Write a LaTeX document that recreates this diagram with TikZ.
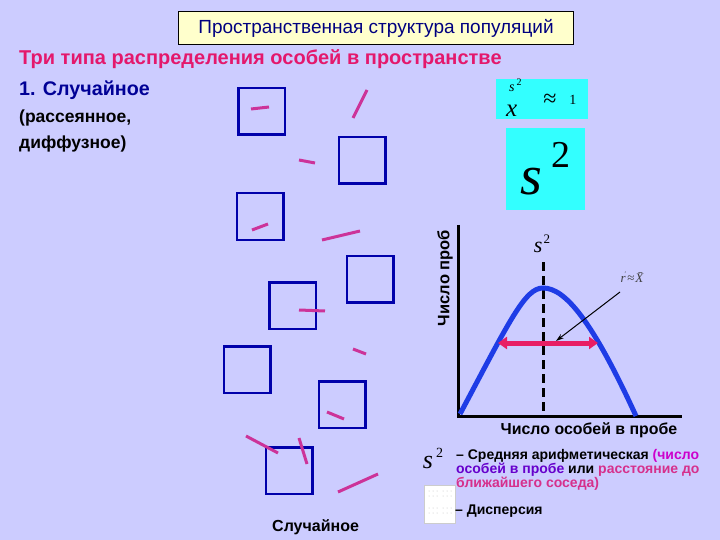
\documentclass[tikz,border=0pt]{standalone}
\usepackage{fontspec}
\setmainfont{Liberation Sans}
\newfontfamily\tms{Liberation Serif}
\usetikzlibrary{arrows.meta}
\definecolor{bgviolet}{RGB}{204,204,255}
\definecolor{titlefill}{RGB}{255,255,204}
\definecolor{navy}{RGB}{0,0,128}
\definecolor{headred}{RGB}{228,24,108}
\definecolor{kindblue}{RGB}{0,0,150}
\definecolor{sqblue}{RGB}{0,0,170}
\definecolor{indpink}{RGB}{204,51,153}
\definecolor{boxcyan}{RGB}{51,255,255}
\definecolor{curveblue}{RGB}{30,60,230}
\definecolor{arrpink}{RGB}{232,30,100}
\definecolor{legmag}{RGB}{204,0,204}
\definecolor{legpurp}{RGB}{102,0,204}
\definecolor{legpink}{RGB}{214,48,140}

\begin{document}
\begin{tikzpicture}[x=1pt,y=-1pt,
  sq/.style={draw=sqblue,line width=2.5pt,minimum size=46.5pt,inner sep=0pt},
  ind/.style={draw=indpink,line width=3pt},
  txt/.style={inner sep=0pt,anchor=west,font=\bfseries\fontsize{#1}{#1}\selectfont},
  txt/.default=14]
\fill[bgviolet] (0,0) rectangle (720,540);

\node[draw,fill=titlefill,line width=1pt,minimum width=395pt,minimum height=33pt,
  text=navy,font=\fontsize{19}{19}\selectfont] (title) at (376,28.5) {Пространственная структура популяций};

\node[txt=20,text=headred] (heading) at (19,59) {Три типа распределения особей в пространстве};
\node[txt=19.7,text=kindblue] (kind) at (19,90) {1. Случайное};
\node[txt=17.5] (note1) at (19,118) {(рассеянное,};
\node[txt=17.5] (note2) at (19,144) {диффузное)};

% quadrats
\foreach \x/\y [count=\i] in {261.5/111.5,362/160.5,260/216.5,370/279,292.5/305.5,247/369.5,342/404.5,289/470.5}
  \node[sq] (sq\i) at (\x,\y) {};

% individuals
\draw[ind] (251,109) -- (269,107);
\draw[ind] (353,118) -- (367,90);
\draw[ind] (299,160) -- (315,163);
\draw[ind] (252,230) -- (268,224);
\draw[ind] (322,240) -- (360,231);
\draw[ind] (299,310) -- (325,311);
\draw[ind] (353,349) -- (366,354);
\draw[ind] (327,412) -- (344,419);
\draw[ind] (246,436) -- (278,453);
\draw[ind] (299,438) -- (307,464);
\draw[ind] (338,492) -- (378,474);

\node[txt=16] (caption) at (272,527) {Случайное};

% formulas
\node[fill=boxcyan,minimum width=92pt,minimum height=40pt,inner sep=0pt] (ratio) at (542,99) {};
\node[anchor=base west,inner sep=0pt] (ratiotxt) at (506,117)
  {\tms\itshape\makebox[0pt][l]{\raisebox{25pt}{\fontsize{14}{14}\selectfont\hspace{3pt}s\raisebox{6pt}{\upshape\fontsize{10}{10}\selectfont\hspace{2pt}2}}}%
   \fontsize{25}{25}\selectfont x\hspace{26pt}\upshape\raisebox{10pt}{\fontsize{24}{24}\selectfont≈}\hspace{13pt}\raisebox{12pt}{\fontsize{14}{14}\selectfont 1}};
\node[fill=boxcyan,minimum width=79pt,minimum height=82pt,inner sep=0pt] (var) at (545.5,169)
  {\tms\itshape\fontsize{56}{56}\selectfont s\hspace{10pt}\raisebox{27pt}{\upshape\fontsize{38}{38}\selectfont 2}};

% graph
\coordinate (O) at (458,416);
\coordinate (ytop) at (458,225);
\coordinate (xend) at (682,416);
\draw[line width=3pt] (ytop) -- (O) -- (xend);
\node[txt=16.5,rotate=90,anchor=center] (ylab) at (445,278) {Число проб};
\node[txt=15.9,anchor=center] (xlab) at (589,430) {Число особей в пробе};

\node[inner sep=0pt] (smark) at (542,244)
  {\tms\itshape\fontsize{22}{22}\selectfont s\hspace{1pt}\raisebox{9pt}{\upshape\fontsize{13}{13}\selectfont 2}};
\coordinate (mid) at (543,413);
\draw[line width=3pt,dash pattern=on 9pt off 5pt] (mid |- 0,262) -- (mid);

\draw[curveblue,line width=5pt] (460,414) .. controls (510,320) and (525,288) .. (543,288)
  .. controls (565,288) and (592,320) .. (636,416);

\coordinate (wl) at (498,343);
\coordinate (wr) at (598,343);
\draw[arrpink,line width=5pt,{Triangle[length=9pt,width=12pt]}-{Triangle[length=9pt,width=12pt]}] (wl) -- (wr);

\node[inner sep=1pt,text=black!75,font=\tms\fontsize{13}{13}\selectfont] (rlab) at (632,277) {\itshape r\kern-1pt\raisebox{6pt}{\upshape\fontsize{7}{7}\selectfont ʹ}\kern1pt\upshape≈\kern1pt\itshape X̄};
\coordinate (tip) at (556,341);
\draw[-{Stealth[length=8pt,width=5pt]},line width=1pt] (620,292) -- (tip);

% legend
\node[inner sep=0pt] (legs) at (433,458)
  {\tms\itshape\fontsize{26}{26}\selectfont s\hspace{3pt}\raisebox{11pt}{\upshape\fontsize{14}{14}\selectfont 2}};
\node[txt=14] (leg1) at (456,456) {– Средняя арифметическая \textcolor{legmag}{(число}};
\node[txt=14,text=legpurp] (leg2) at (456,470) {особей в пробе \textcolor{black}{или} \textcolor{legpink}{расстояние до}};
\node[txt=14,text=legpink] (leg3) at (456,484) {ближайшего соседа)};
\node[draw=black!20,fill=white,minimum width=31pt,minimum height=38pt,inner sep=0pt] (blank) at (439.5,504) {};
\foreach \yy in {491,496,508,513}
  \foreach \xx in {429,433,437,443,447,451}
    \fill[black!25] (\xx,\yy) circle (0.5pt);
\node[txt=14] (leg4) at (455,511) {– Дисперсия};
\end{tikzpicture}
\end{document}
